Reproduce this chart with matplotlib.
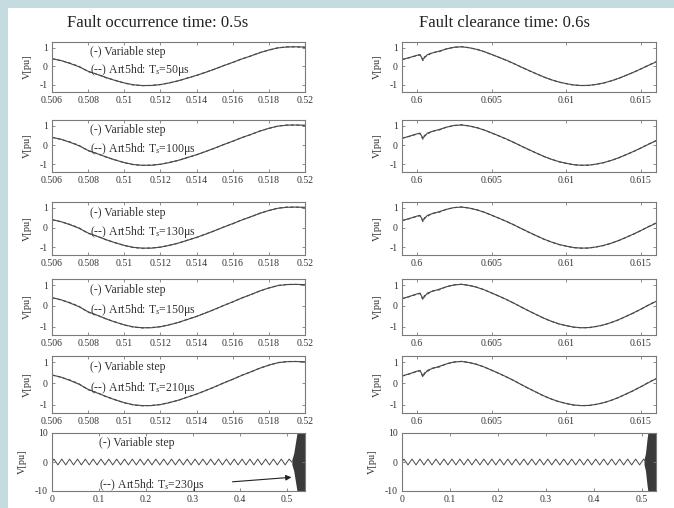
import matplotlib
matplotlib.use("Agg")
import matplotlib.pyplot as plt
import matplotlib.ticker as mticker
from matplotlib.patches import Rectangle

plt.rcParams["font.family"] = ["Liberation Serif", "DejaVu Serif"]
plt.rcParams["mathtext.fontset"] = "custom"
plt.rcParams["mathtext.rm"] = "Liberation Serif"
plt.rcParams["mathtext.it"] = "Liberation Serif:italic"
plt.rcParams["axes.unicode_minus"] = False

# ── data ─────────────────────────────────────────────────────────────────────
TS_LABELS = ["50", "100", "130", "150", "210", "230"]

# fault occurrence window (left column, rows 1-5)
t_occ = [0.506, 0.5065, 0.507, 0.5075, 0.508, 0.5085, 0.509, 0.5095, 0.510,
         0.5105, 0.511, 0.5115, 0.512, 0.5125, 0.513, 0.5135, 0.514, 0.5145,
         0.515, 0.5155, 0.516, 0.5165, 0.517, 0.5175, 0.518, 0.5185, 0.519,
         0.5195, 0.520]
v_occ_var = [0.40, 0.30, 0.14, -0.04, -0.28, -0.45, -0.62, -0.78, -0.91,
             -1.01, -1.05, -1.05, -1.00, -0.91, -0.79, -0.65, -0.50, -0.34,
             -0.16, 0.02, 0.20, 0.38, 0.55, 0.72, 0.87, 0.98, 1.03, 1.04, 1.03]
v_occ_art = [0.40, 0.29, 0.16, -0.02, -0.30, -0.44, -0.63, -0.77, -0.92,
             -1.02, -1.06, -1.04, -1.00, -0.90, -0.80, -0.64, -0.51, -0.33,
             -0.17, 0.03, 0.19, 0.39, 0.54, 0.73, 0.86, 0.99, 1.04, 1.04, 1.00]

# fault clearance window (right column, rows 1-5)
t_clr = [0.599, 0.5995, 0.600, 0.6002, 0.6004, 0.6005, 0.6007, 0.601, 0.6015,
         0.602, 0.6025, 0.603, 0.6035, 0.604, 0.6045, 0.605, 0.6055, 0.606,
         0.6065, 0.607, 0.6075, 0.608, 0.6085, 0.609, 0.6095, 0.610, 0.6105,
         0.611, 0.6115, 0.612, 0.6125, 0.613, 0.6135, 0.614, 0.6145, 0.615,
         0.6155, 0.616]
v_clr_var = [0.35, 0.46, 0.58, 0.62, 0.36, 0.44, 0.62, 0.70, 0.81, 0.93, 1.02,
             1.04, 0.99, 0.90, 0.78, 0.63, 0.47, 0.31, 0.13, -0.06, -0.24,
             -0.42, -0.59, -0.74, -0.86, -0.95, -1.02, -1.05, -1.04, -0.99,
             -0.91, -0.80, -0.66, -0.50, -0.33, -0.15, 0.04, 0.22]
v_clr_art = [0.35, 0.45, 0.57, 0.60, 0.30, 0.50, 0.56, 0.72, 0.78, 0.94, 1.01,
             1.05, 0.99, 0.91, 0.78, 0.62, 0.47, 0.30, 0.13, -0.06, -0.25,
             -0.42, -0.60, -0.74, -0.87, -0.95, -1.03, -1.05, -1.05, -0.99,
             -0.92, -0.80, -0.67, -0.50, -0.34, -0.15, 0.05, 0.23]

# whole run (bottom row): waveform extremes, then fault transient envelope
t_full = [0.0, 0.0042, 0.0125, 0.0208, 0.0292, 0.0375, 0.0458, 0.0542, 0.0625,
          0.0708, 0.0792, 0.0875, 0.0958, 0.1042, 0.1125, 0.1208, 0.1292,
          0.1375, 0.1458, 0.1542, 0.1625, 0.1708, 0.1792, 0.1875, 0.1958,
          0.2042, 0.2125, 0.2208, 0.2292, 0.2375, 0.2458, 0.2542, 0.2625,
          0.2708, 0.2792, 0.2875, 0.2958, 0.3042, 0.3125, 0.3208, 0.3292,
          0.3375, 0.3458, 0.3542, 0.3625, 0.3708, 0.3792, 0.3875, 0.3958,
          0.4042, 0.4125, 0.4208, 0.4292, 0.4375, 0.4458, 0.4542, 0.4625,
          0.4708, 0.4792, 0.4875, 0.4958, 0.5042, 0.5100]
v_full = [0.0, 1, -1, 1, -1, 1, -1, 1, -1, 1, -1, 1, -1, 1, -1, 1, -1, 1, -1,
          1, -1, 1, -1, 1, -1, 1, -1, 1, -1, 1, -1, 1, -1, 1, -1, 1, -1, 1, -1,
          1, -1, 1, -1, 1, -1, 1, -1, 1, -1, 1, -1, 1, -1, 1, -1, 1, -1, 1, -1,
          1, -1, 1, 0.0]
tr_t_left = [0.510, 0.514, 0.518, 0.521, 0.538]
tr_amp_left = [0.8, 3.0, 7.0, 10.0, 10.0]
tr_t_right = [0.505, 0.508, 0.511, 0.513, 0.530]
tr_amp_right = [0.8, 3.0, 7.5, 10.0, 10.0]

# ── layout (pixel boxes of the reference) ───────────────────────────────────
W, H = 674, 508
ROWS = [(42, 92), (120, 172), (202, 255), (279, 335), (356, 413), (433, 491)]
COLS = [(52, 305), (402, 656)]
LINE = "#4a4a4a"
SPINE = "#7a7a7a"
TXT = "#333333"
FS_NOTE = 8.5

fig = plt.figure(figsize=(W / 100, H / 100), dpi=100, facecolor="#c4dce0")
fig.patches.append(Rectangle((8 / W, 0), 1, 1 - 8 / H, transform=fig.transFigure,
                             facecolor="white", edgecolor="none", zorder=-10))


def make_ax(row, col):
    (top, bot), (x0, x1) = ROWS[row], COLS[col]
    ax = fig.add_axes([x0 / W, 1 - bot / H, (x1 - x0) / W, (bot - top) / H])
    ax.set_facecolor("none")
    for s in ax.spines.values():
        s.set_color(SPINE)
        s.set_linewidth(0.8)
    ax.tick_params(direction="in", length=2.5, width=0.6, colors=SPINE,
                   labelcolor=TXT, labelsize=7, top=True, right=True, pad=3)
    ax.xaxis.set_major_formatter(mticker.FuncFormatter(lambda v, _: f"{v:g}"))
    ax.set_ylabel("V[pu]", fontsize=7.5, color=TXT, labelpad=6)
    return ax


for row in range(5):
    # left: fault occurrence
    ax = make_ax(row, 0)
    ax.plot(t_occ, v_occ_var, color=LINE, lw=0.8)
    ax.plot(t_occ, v_occ_art, color=LINE, lw=0.8, ls=(0, (3, 2)))
    ax.set_xlim(0.506, 0.520)
    ax.set_ylim(-1.4, 1.3)
    ax.set_xticks([0.506, 0.508, 0.510, 0.512, 0.514, 0.516, 0.518, 0.520])
    ax.set_yticks([-1, 0, 1])
    ax.text(0.5081, 0.80, "(-) Variable step", fontsize=FS_NOTE, color=TXT,
            transform=ax.get_xaxis_transform(), va="center")
    ax.text(0.5081, 0.44, f"(--) Art5hd: T$_s$={TS_LABELS[row]}μs",
            fontsize=FS_NOTE, color=TXT, transform=ax.get_xaxis_transform(),
            va="center")

    # right: fault clearance
    ax = make_ax(row, 1)
    ax.plot(t_clr, v_clr_var, color=LINE, lw=0.8)
    ax.plot(t_clr, v_clr_art, color=LINE, lw=0.8, ls=(0, (3, 2)))
    ax.set_xlim(0.599, 0.616)
    ax.set_ylim(-1.4, 1.3)
    ax.set_xticks([0.600, 0.605, 0.610, 0.615])
    ax.set_yticks([-1, 0, 1])

# bottom row: whole simulation
for col, (tr_t, tr_a, xmax) in enumerate([(tr_t_left, tr_amp_left, 0.538),
                                          (tr_t_right, tr_amp_right, 0.530)]):
    ax = make_ax(5, col)
    ax.plot(t_full, v_full, color=LINE, lw=0.7)
    ax.fill_between(tr_t, [-a for a in tr_a], tr_a, color="#3a3a3a", lw=0)
    ax.set_xlim(0, xmax)
    ax.set_ylim(-10, 10)
    ax.set_xticks([0, 0.1, 0.2, 0.3, 0.4, 0.5])
    ax.set_yticks([-10, 0, 10])
    if col == 0:
        ax.text(0.1, 6.5, "(-) Variable step", fontsize=FS_NOTE, color=TXT,
                va="center")
        ax.text(0.1, -7.8, f"(--) Art5hd: T$_s$={TS_LABELS[5]}μs",
                fontsize=FS_NOTE, color=TXT, va="center")
        ax.annotate("", xy=(0.515, -5.2), xytext=(0.378, -6.9),
                    arrowprops=dict(arrowstyle="-|>", color="#222222", lw=0.8,
                                    mutation_scale=8))

fig.text(158 / W, 1 - 23 / H, "Fault occurrence time: 0.5s", ha="center",
         va="center", fontsize=12, color="#222222")
fig.text(505 / W, 1 - 23 / H, "Fault clearance time: 0.6s", ha="center",
         va="center", fontsize=12, color="#222222")

fig.savefig("out.png", dpi=100, facecolor=fig.get_facecolor())
